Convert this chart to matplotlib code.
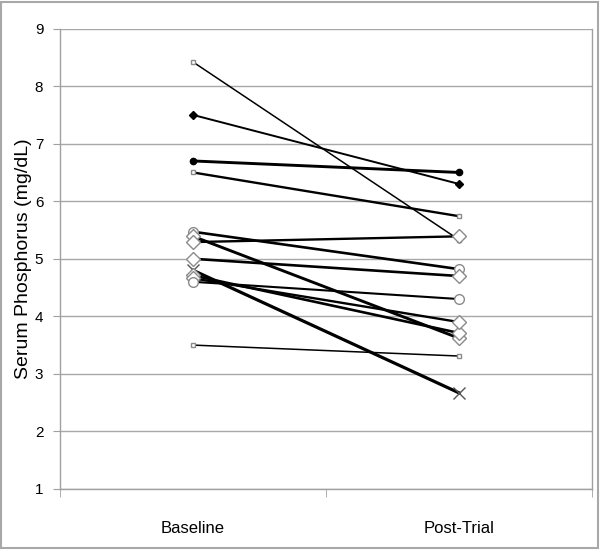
import matplotlib
matplotlib.use("Agg")
import matplotlib.pyplot as plt
from matplotlib.patches import Rectangle

# Serum phosphorus per subject, baseline vs post-trial (mg/dL)
categories = ["Baseline", "Post-Trial"]
baseline = [8.42, 7.50, 6.70, 6.50, 5.47, 5.39, 5.29, 5.00, 4.80, 4.71, 4.66, 4.60, 3.50]
post = [5.33, 6.30, 6.50, 5.74, 4.82, 3.62, 5.39, 4.70, 2.67, 3.71, 3.90, 4.30, 3.31]
y_ticks = [1, 2, 3, 4, 5, 6, 7, 8, 9]

# per-series marker style and line width
markers = ["s", "D", "o", "s", "o", "D", "D", "D", "x", "D", "D", "o", "s"]
filled = [False, True, True, False, False, False, False, False, False, False, False, False, False]
widths = [1.1, 1.4, 2.1, 1.7, 1.9, 2.1, 1.7, 1.9, 2.3, 1.9, 1.7, 1.5, 1.1]

plt.rcParams['font.family'] = ['Liberation Sans', 'DejaVu Sans']

fig = plt.figure(figsize=(6, 5.5), dpi=100)
ax = fig.add_axes([0.1, 0.111, 0.8867, 0.837])

for yv in y_ticks:
    ax.axhline(yv, color='#a8a8a8', lw=1.0, zorder=0)

x = [0, 1]
for i in range(len(baseline)):
    m = markers[i]
    if m == "s":
        ms, mec = 3.5, '#8a8a8a'
    elif m == "o":
        ms, mec = 7, '#8a8a8a'
    elif m == "x":
        ms, mec = 8, '#555555'
    else:
        ms, mec = 7, '#8a8a8a'
    if filled[i]:
        mfc, mec = 'black', 'black'
        ms = 4.5
    else:
        mfc = 'white'
    ax.plot(x, [baseline[i], post[i]], color='black', lw=widths[i], marker=m,
            ms=ms, mfc=mfc, mec=mec, mew=1.0, zorder=3)

ax.set_xlim(-0.5, 1.5)
ax.set_ylim(1, 9)
ax.set_yticks(y_ticks)
ax.set_yticklabels([str(v) for v in y_ticks], fontsize=11)
ax.set_xticks(x)
ax.set_xticklabels(categories, fontsize=12, family=['Liberation Sans Narrow', 'Liberation Sans'])
ax.tick_params(axis='x', length=0, pad=23)
ax.tick_params(axis='y', length=5, color='#a0a0a0', pad=7)
# category boundary ticks on x axis
ax.set_xticks([-0.5, 0.5, 1.5], minor=True)
ax.tick_params(axis='x', which='minor', length=6, color='#a0a0a0', direction='out')

ax.set_ylabel("Serum Phosphorus (mg/dL)", fontsize=14, labelpad=2)

for side in ['top']:
    ax.spines[side].set_visible(False)
for side in ['left', 'bottom', 'right']:
    ax.spines[side].set_color('#a0a0a0')
    ax.spines[side].set_linewidth(1.0)

# outer frame
fig.patches.append(Rectangle((0.002, 0.003), 0.994, 0.994, transform=fig.transFigure,
                             fill=False, edgecolor='#a8a8a8', lw=1.5))

fig.savefig("out.png", dpi=100)
